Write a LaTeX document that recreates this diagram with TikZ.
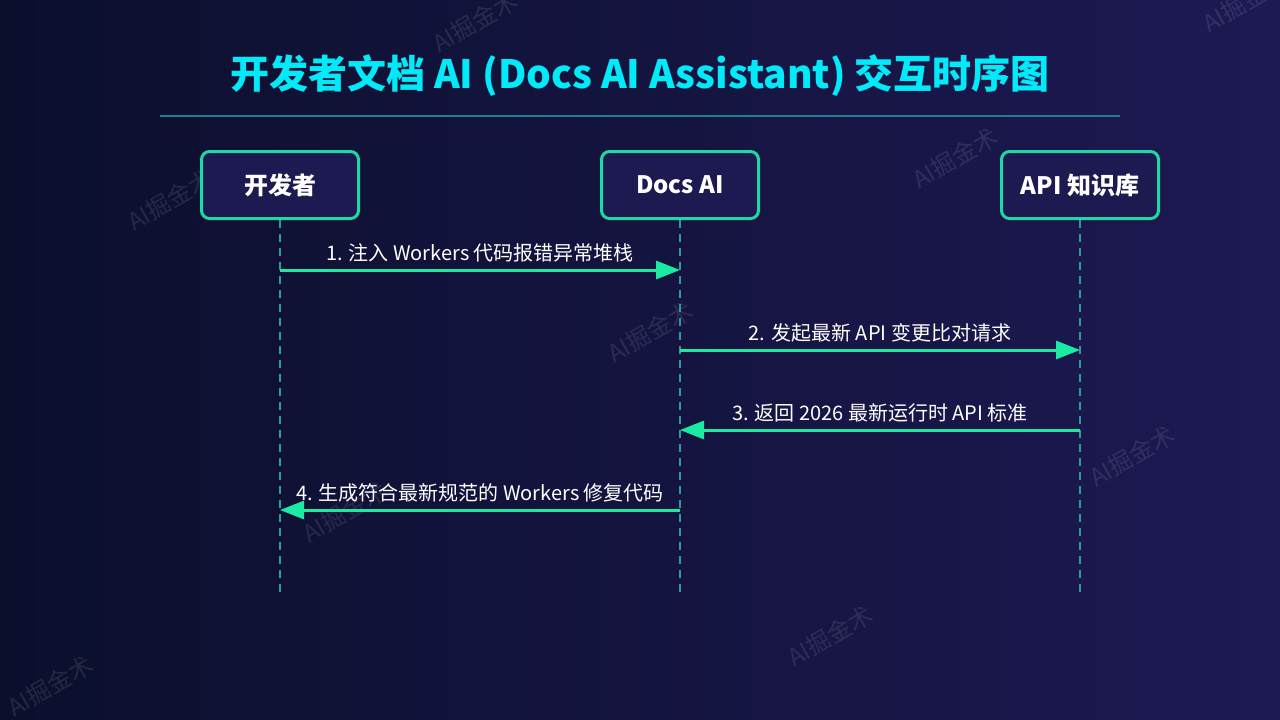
\documentclass[tikz,border=0pt]{standalone}
\usepackage{fontspec}
\setmainfont{Noto Sans CJK SC}
\usetikzlibrary{arrows.meta}
\definecolor{bgleft}{HTML}{0B0F2C}
\definecolor{bgright}{HTML}{1D1953}
\definecolor{boxfill}{HTML}{1D1A52}
\definecolor{mint}{HTML}{1FD8A4}
\definecolor{arrowgreen}{HTML}{1CE9A2}
\definecolor{lifeteal}{HTML}{2A9E96}
\definecolor{titlecyan}{HTML}{00EAF8}
\definecolor{rulecolor}{HTML}{1E7E92}

\begin{document}
\begin{tikzpicture}[x=1pt, y=-1pt,
  actor/.style = {draw=mint, line width=3pt, rounded corners=8pt, fill=boxfill,
    minimum width=157pt, minimum height=67pt, text=white,
    font=\bfseries\fontsize{24}{28}\selectfont},
  life/.style = {draw=lifeteal, line width=1.5pt, dash pattern=on 8pt off 6pt},
  msg/.style = {draw=arrowgreen, line width=3pt, -{Triangle[length=24pt,width=18pt]}},
  msglabel/.style = {text=white, font=\fontsize{20}{24}\selectfont},
  wmark/.style = {text=white, opacity=0.10, rotate=30, font=\fontsize{24}{28}\selectfont}]
	\useasboundingbox (0,0) rectangle (1280,720);
	\shade[left color=bgleft, right color=bgright] (0,0) rectangle (1280,720);
	% watermarks
	\node[wmark] (wm1) at (475,22) {AI掘金术};
	\node[wmark] (wm2) at (170,200) {AI掘金术};
	\node[wmark] (wm3) at (955,158) {AI掘金术};
	\node[wmark] (wm4) at (650,332) {AI掘金术};
	\node[wmark] (wm5) at (1132,456) {AI掘金术};
	\node[wmark] (wm6) at (345,512) {AI掘金术};
	\node[wmark] (wm7) at (830,636) {AI掘金术};
	\node[wmark] (wm8) at (50,686) {AI掘金术};
	\node[wmark] (wm9) at (1245,2) {AI掘金术};
	% title
	\node[text=titlecyan, font=\bfseries\fontsize{39}{46}\selectfont] (title) at (640,76) {开发者文档 AI (Docs AI Assistant) 交互时序图};
	\coordinate (ruleL) at (160,116);
	\coordinate (ruleR) at (1120,116);
	\draw[rulecolor, line width=1.5pt] (ruleL) -- (ruleR);
	% actors
	\node[actor] (dev) at (280,185) {开发者};
	\node[actor] (docs) at (680,185) {Docs AI};
	\node[actor] (api) at (1080,185) {API 知识库};
	\coordinate (devend) at (280,596);
	\coordinate (docsend) at (680,596);
	\coordinate (apiend) at (1080,596);
	\draw[life] (dev.south) -- (devend);
	\draw[life] (docs.south) -- (docsend);
	\draw[life] (api.south) -- (apiend);
	% messages
	\coordinate (m1a) at (280,270);
	\coordinate (m1b) at (680,270);
	\coordinate (m2a) at (680,350);
	\coordinate (m2b) at (1080,350);
	\coordinate (m3a) at (1080,430);
	\coordinate (m3b) at (680,430);
	\coordinate (m4a) at (680,510);
	\coordinate (m4b) at (280,510);
	\draw[msg] (m1a) -- (m1b) node[msglabel, midway, above=3pt] (l1) {1. 注入 Workers 代码报错异常堆栈};
	\draw[msg] (m2a) -- (m2b) node[msglabel, midway, above=3pt] (l2) {2. 发起最新 API 变更比对请求};
	\draw[msg] (m3a) -- (m3b) node[msglabel, midway, above=3pt] (l3) {3. 返回 2026 最新运行时 API 标准};
	\draw[msg] (m4a) -- (m4b) node[msglabel, midway, above=3pt] (l4) {4. 生成符合最新规范的 Workers 修复代码};
\end{tikzpicture}
\end{document}
